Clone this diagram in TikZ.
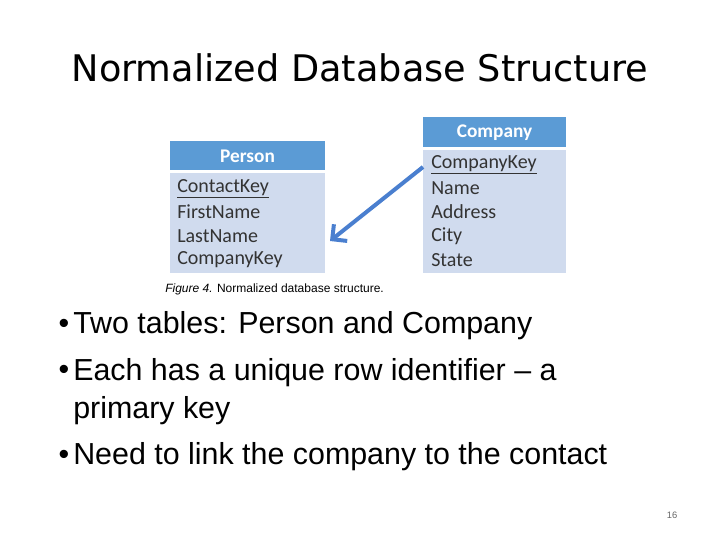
\documentclass[tikz,border=0pt]{standalone}
\usepackage{fontspec}
\setmainfont{Liberation Sans}
\newfontfamily\calfnt{Carlito}
\newfontfamily\ttlfnt{DejaVu Sans}
\usetikzlibrary{arrows.meta}
\definecolor{hdr}{HTML}{5B9BD5}
\definecolor{bod}{HTML}{D0DBEE}
\definecolor{arr}{HTML}{4A7FCF}
\begin{document}
\begin{tikzpicture}[x=0.75pt,y=-0.75pt,
  fld/.style={anchor=west,font=\calfnt\fontsize{15}{15}\selectfont,text=black!80,inner sep=0},
  bul/.style={anchor=west,font=\fontsize{22.8}{29}\selectfont,inner sep=0,align=left},
  dot/.style={font=\fontsize{22.8}{29}\selectfont,inner sep=0}]
\useasboundingbox (0,0) rectangle (720,540);
\node (title) at (360,68) {\ttlfnt\fontsize{27.5}{27.5}\selectfont Normalized Database Structure};
\fill[hdr] (170,141) rectangle (325,170);
\node[text=white,font=\calfnt\bfseries\fontsize{14.5}{14.5}\selectfont] (ph) at (247.5,156) {Person};
\fill[bod] (170,173) rectangle (325,273);
\node[fld] (p1) at (177,189) {\underline{ContactKey}};
\node[fld] (p2) at (177,212) {FirstName};
\node[fld] (p3) at (177,236) {LastName};
\node[fld] (p4) at (177,260) {CompanyKey};
\fill[hdr] (423,117) rectangle (566,147);
\node[text=white,font=\calfnt\bfseries\fontsize{14.5}{14.5}\selectfont] (ch) at (494.5,133) {Company};
\fill[bod] (423,150) rectangle (566,273);
\node[fld] (c1) at (431,165) {\underline{CompanyKey}};
\node[fld] (c2) at (431,188) {Name};
\node[fld] (c3) at (431,212) {Address};
\node[fld] (c4) at (431,236) {City};
\node[fld] (c5) at (431,260) {State};
\coordinate (a) at (423,167);
\coordinate (b) at (330,241);
\draw[arr,line width=3pt,-{Straight Barb[length=8pt,width=16pt,line width=3pt]}] (a) -- (b);
\node[anchor=west,font=\fontsize{9}{9}\selectfont,inner sep=0] (cap) at (165,289) {\textit{Figure 4.} Normalized database structure.};
\node[dot] (d1) at (64,326) {•};
\node[bul] (b1) at (73,326) {Two tables: Person and Company};
\node[dot] (d2) at (64,372) {•};
\node[bul,anchor=north west] (b2) at (73,358) {Each has a unique row identifier – a\\primary key};
\node[dot] (d3) at (64,457) {•};
\node[bul] (b3) at (73,457) {Need to link the company to the contact};
\node[font=\fontsize{7}{7}\selectfont,text=black!60] (pg) at (672,515) {16};
\end{tikzpicture}
\end{document}
